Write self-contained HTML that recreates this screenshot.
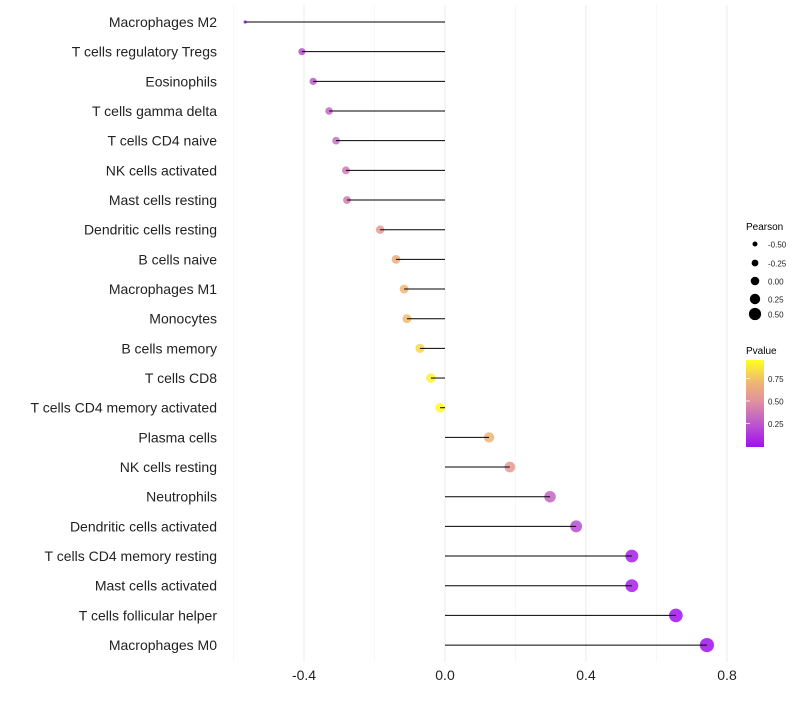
<!DOCTYPE html>
<html><head><meta charset="utf-8"><style>
body{margin:0;background:#fff;font-family:"Liberation Sans",sans-serif;}
</style></head><body>
<svg id="chart" width="800" height="700" xmlns="http://www.w3.org/2000/svg">
<defs><linearGradient id="pg" x1="0" y1="1" x2="0" y2="0">
<stop offset="0" stop-color="#a010f0"/><stop offset="0.3" stop-color="#c060c8"/><stop offset="0.52" stop-color="#e090a0"/><stop offset="0.75" stop-color="#f0b870"/><stop offset="1" stop-color="#ffff20"/></linearGradient></defs>
<g id="grid"></g><g id="dots"></g><g id="marks"></g><g id="labels"></g><g id="legend"></g>
</svg>
<script>
const categories=["Macrophages M2","T cells regulatory  Tregs ","Eosinophils","T cells gamma delta","T cells CD4 naive","NK cells activated","Mast cells resting","Dendritic cells resting","B cells naive","Macrophages M1","Monocytes","B cells memory","T cells CD8","T cells CD4 memory activated","Plasma cells","NK cells resting","Neutrophils","Dendritic cells activated","T cells CD4 memory resting","Mast cells activated","T cells follicular helper","Macrophages M0"];
const pearson=[-0.567,-0.406,-0.374,-0.329,-0.309,-0.281,-0.278,-0.184,-0.139,-0.116,-0.108,-0.071,-0.040,-0.014,0.125,0.184,0.298,0.372,0.530,0.530,0.655,0.743];
const pvalues=[0.03,0.22,0.28,0.33,0.36,0.42,0.42,0.58,0.68,0.74,0.76,0.86,0.95,0.98,0.72,0.58,0.32,0.22,0.06,0.06,0.01,0.001];
const xTicks=[-0.4,0,0.4,0.8];
const xTickLabels=["-0.4","0.0","0.4","0.8"];
const xMinor=[-0.6,-0.2,0.2,0.6];
const legendVals=[-0.5,-0.25,0,0.25,0.5];
const legendLabels=["-0.50","-0.25","0.00","0.25","0.50"];
const pTicks=[0.25,0.5,0.75];
const pTickLabels=["0.25","0.50","0.75"];

const NS="http://www.w3.org/2000/svg";
const X=v=>445+v*352.5;
const Y=i=>22+i*29.67;
const R=v=>v<-0.5?1.6:4.8+3.1*v;
const RL=v=>4.3+3.6*v;
const stops=[[0,[160,16,240]],[0.3,[192,96,200]],[0.52,[224,144,160]],[0.75,[240,184,112]],[1,[255,255,32]]];
function col(p){for(let k=1;k<stops.length;k++){if(p<=stops[k][0]){const a=stops[k-1],b=stops[k],t=(p-a[0])/(b[0]-a[0]);return `rgb(${a[1].map((c,j)=>Math.round(c+(b[1][j]-c)*t)).join(",")})`;}}return "rgb(255,255,32)";}
function mk(tag,at,parent,txt){const e=document.createElementNS(NS,tag);for(const k in at)e.setAttribute(k,at[k]);if(txt!==undefined)e.textContent=txt;document.getElementById(parent).appendChild(e);return e;}
xMinor.forEach(v=>{const l=mk("line",{x1:X(v),x2:X(v),y1:5,y2:662,stroke:"#f2f2f2","stroke-width":0.6},"grid");

});
xTicks.forEach((v,i)=>{const l=mk("line",{x1:X(v),x2:X(v),y1:5,y2:662,stroke:"#ebebeb","stroke-width":1},"grid");


const t=mk("text",{x:X(v),y:680,"text-anchor":"middle","font-size":14,fill:"#222"},"labels",xTickLabels[i]);

});
categories.forEach((c,i)=>{const y=Y(i);
const d=mk("circle",{cx:X(pearson[i]),cy:y,r:R(pearson[i]),fill:col(pvalues[i]),"fill-opacity":0.85},"dots");


const l=mk("line",{x1:X(0),x2:X(pearson[i]),y1:y,y2:y,stroke:"#000","stroke-width":1},"marks");


const t=mk("text",{x:217,y:y+5,"text-anchor":"end","font-size":14,fill:"#222","xml:space":"preserve"},"labels",c);

});
let t=mk("text",{x:746,y:230,"font-size":10,fill:"#000"},"legend","Pearson");


const ly=[244,263,281,299,314];
legendVals.forEach((v,i)=>{const c=mk("circle",{cx:755,cy:ly[i],r:RL(v),fill:"#000"},"legend");


const tt=mk("text",{x:768,y:ly[i]+3.5,"font-size":8,fill:"#222"},"legend",legendLabels[i]);

});
t=mk("text",{x:746,y:354,"font-size":10,fill:"#000"},"legend","Pvalue");


const bar=mk("rect",{x:746,y:360,width:18,height:87,fill:"url(#pg)"},"legend");


const PY=p=>446-p*90;
pTicks.forEach((p,i)=>{const tk=mk("line",{x1:746,x2:750,y1:PY(p),y2:PY(p),stroke:"#fff","stroke-width":0.8},"legend");


const tt=mk("text",{x:768,y:PY(p)+3.5,"font-size":8,fill:"#222"},"legend",pTickLabels[i]);

});
</script>
</body></html>
